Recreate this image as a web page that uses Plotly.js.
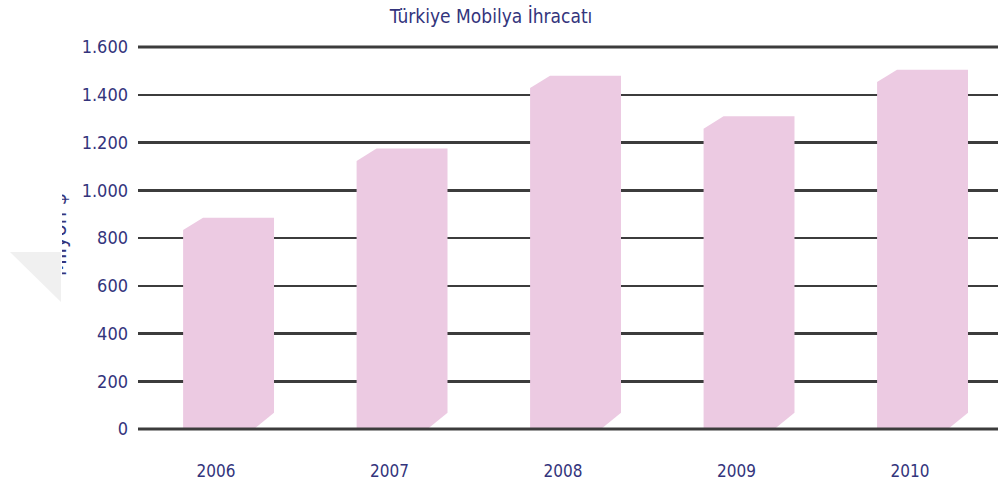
<!DOCTYPE html>
<html><head><meta charset="utf-8">
<script src="https://cdn.plot.ly/plotly-3.0.1.min.js"></script>
<style>html,body{margin:0;padding:0;background:#fff}#c{width:998px;height:491px}</style>
</head><body><div id="c"></div>
<script>
const years = ['2006','2007','2008','2009','2010'];
const exportsMusd = [885, 1175, 1480, 1310, 1505];
const yTickVals = [0,200,400,600,800,1000,1200,1400,1600];
const yTickText = ['0','200','400','600','800','1.000','1.200','1.400','1.600'];

const barColor = '#eccae2';
const textColor = '#33347c';
const fontFam = 'DejaVu Sans Condensed, sans-serif';
const shift = 0.072, half = 0.262, cx = 0.115, topCut = 52, botCut = 68;

const traces = years.map((yr, i) => {
  const v = exportsMusd[i];
  const L = i + shift - half, R = i + shift + half;
  return {
    type: 'scatter', mode: 'lines', fill: 'toself',
    x: [L, L, L + cx, R, R, R - cx, L],
    y: [0, v - topCut, v, v, botCut, 0, 0],
    line: {width: 0, color: barColor}, fillcolor: barColor,
    hoverinfo: 'skip', showlegend: false
  };
});
const edgeLines = [0, 1].map(v => ({type: 'line', xref: 'paper', yref: 'paper', x0: 0, x1: 1, y0: v, y1: v,
  layer: 'above', line: {color: '#3c3c3c', width: 3}}));
const layout = {
  width: 998, height: 491,
  margin: {l: 138, r: 0, t: 47, b: 62},
  paper_bgcolor: '#fff', plot_bgcolor: '#fff',
  title: {text: 'Türkiye Mobilya İhracatı', x: 0.492, xref: 'container', y: 0.967, yanchor: 'middle',
    font: {family: fontFam, size: 19, color: textColor}},
  xaxis: {range: [-0.45, 4.507], tickvals: [0,1,2,3,4], ticktext: years, showgrid: false,
    zeroline: false, showline: false, ticks: '', ticklabelstandoff: 30,
    tickfont: {family: fontFam, size: 17, color: textColor}},
  yaxis: {range: [0, 1600], tickvals: yTickVals, ticktext: yTickText, showgrid: true,
    gridcolor: '#3c3c3c', gridwidth: 2.5, zeroline: false, showline: false, ticks: '',
    ticklabelstandoff: 9, layer: 'below traces',
    tickfont: {family: fontFam, size: 18, color: textColor}},
  annotations: [{text: 'Milyon $', xref: 'paper', yref: 'paper', x: (66 - 138) / 860, y: (429 - 235) / 382,
    textangle: -90, showarrow: false, xanchor: 'center', yanchor: 'middle',
    width: 95, height: 9, valign: 'bottom',
    font: {family: fontFam, size: 22, color: textColor}}],
  shapes: [{type: 'path', xref: 'paper', yref: 'paper', layer: 'below',
    path: `M ${(10-138)/860} ${(429-252)/382} L ${(61-138)/860} ${(429-252)/382} L ${(61-138)/860} ${(429-302)/382} Z`,
    fillcolor: '#f0f0f0', line: {width: 0}}].concat(edgeLines)
};
Plotly.newPlot('c', traces, layout, {displayModeBar: false, staticPlot: true});
</script></body></html>
